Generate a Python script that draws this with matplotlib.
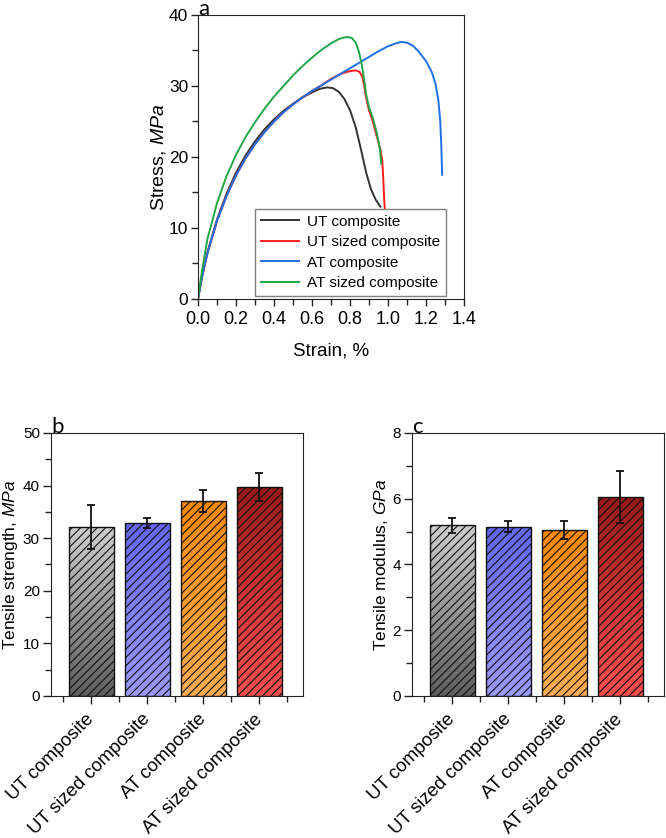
import numpy as np
import matplotlib
matplotlib.use("Agg")
import matplotlib.pyplot as plt
from matplotlib.colors import LinearSegmentedColormap
from matplotlib.ticker import MultipleLocator

plt.rcParams['font.family'] = ['Liberation Sans', 'DejaVu Sans']
plt.rcParams['mathtext.fontset'] = 'custom'
plt.rcParams['mathtext.rm'] = 'Liberation Sans'
plt.rcParams['mathtext.it'] = 'Liberation Sans:italic'
plt.rcParams['hatch.linewidth'] = 0.8
plt.rcParams['axes.edgecolor'] = '#222222'

# ---------------- Panel a: stress-strain curves ----------------
ut_strain = [0, 0.02, 0.05, 0.1, 0.15, 0.2, 0.25, 0.3, 0.35, 0.4, 0.45, 0.5, 0.55, 0.6,
             0.64, 0.68, 0.71, 0.74, 0.77, 0.8, 0.83, 0.86, 0.885, 0.91, 0.935, 0.96]
ut_stress = [0, 3.0, 6.6, 11.2, 14.8, 17.8, 20.2, 22.2, 23.9, 25.3, 26.5, 27.5, 28.4, 29.1,
             29.6, 29.8, 29.7, 29.2, 28.2, 26.6, 24.2, 20.8, 17.8, 15.5, 14.0, 13.0]

uts_strain = [0, 0.02, 0.05, 0.1, 0.15, 0.2, 0.25, 0.3, 0.35, 0.4, 0.45, 0.5, 0.55, 0.6,
              0.65, 0.7, 0.75, 0.8, 0.83, 0.85, 0.865, 0.875, 0.885, 0.9, 0.92, 0.94, 0.96,
              0.97, 0.975, 0.98, 0.985]
uts_stress = [0, 3.0, 6.5, 11.0, 14.5, 17.4, 19.8, 21.8, 23.5, 25.0, 26.3, 27.4, 28.4, 29.3,
              30.1, 31.0, 31.7, 32.1, 32.2, 32.0, 31.3, 30.0, 28.3, 26.6, 25.0, 23.0, 21.0,
              19.5, 17.0, 14.0, 12.0]

at_strain = [0, 0.02, 0.05, 0.1, 0.15, 0.2, 0.25, 0.3, 0.35, 0.4, 0.45, 0.5, 0.55, 0.6,
             0.65, 0.7, 0.75, 0.8, 0.85, 0.9, 0.95, 1.0, 1.04, 1.07, 1.1, 1.13, 1.16, 1.2,
             1.23, 1.25, 1.265, 1.275, 1.28, 1.285]
at_stress = [0, 3.0, 6.5, 11.0, 14.5, 17.4, 19.8, 21.8, 23.5, 25.0, 26.3, 27.4, 28.4, 29.3,
             30.1, 30.9, 31.7, 32.5, 33.3, 34.1, 34.9, 35.6, 36.0, 36.2, 36.1, 35.7, 34.9, 33.5,
             32.0, 30.3, 28.0, 25.0, 22.0, 17.5]

ats_strain = [0, 0.02, 0.05, 0.1, 0.15, 0.2, 0.25, 0.3, 0.35, 0.4, 0.45, 0.5, 0.55, 0.6,
              0.65, 0.7, 0.74, 0.77, 0.79, 0.81, 0.83, 0.845, 0.86, 0.873, 0.885, 0.9, 0.92,
              0.94, 0.955, 0.965]
ats_stress = [0, 3.8, 8.5, 13.5, 17.3, 20.3, 22.8, 24.9, 26.8, 28.5, 30.0, 31.5, 32.8, 34.0,
              35.1, 36.0, 36.6, 36.85, 36.9, 36.75, 36.1, 35.0, 33.3, 31.2, 28.8, 27.0, 25.5,
              23.5, 21.5, 19.0]

curve_labels = ["UT composite", "UT sized composite", "AT composite", "AT sized composite"]
curve_colors = ["#333333", "#ff1a1a", "#1f6fe6", "#22a64a"]

# ---------------- Panels b, c: bar charts ----------------
categories = ["UT composite", "UT sized composite", "AT composite", "AT sized composite"]
strength = [32.1, 32.9, 37.1, 39.8]
strength_err = [4.15, 1.0, 2.1, 2.65]
modulus = [5.19, 5.15, 5.05, 6.05]
modulus_err = [0.22, 0.17, 0.27, 0.8]

# gradient (top, bottom) colours for each bar
grad_colors = [("#cdcdcd", "#5e5e5e"),
               ("#6565f5", "#9a9aff"),
               ("#ff8800", "#ffad55"),
               ("#961a1a", "#ff4f4f")]

fig = plt.figure(figsize=(6.66, 8.38), dpi=100)

# ---- panel a ----
ax = fig.add_axes([0.2973, 0.6432, 0.3994, 0.3389])
for (sx, sy), lab, col in zip([(ut_strain, ut_stress), (uts_strain, uts_stress),
                               (at_strain, at_stress), (ats_strain, ats_stress)],
                              curve_labels, curve_colors):
    ax.plot(sx, sy, color=col, lw=1.4, label=lab)
ax.set_xlim(0, 1.4)
ax.set_ylim(0, 40)
ax.xaxis.set_major_locator(MultipleLocator(0.2))
ax.xaxis.set_minor_locator(MultipleLocator(0.1))
ax.yaxis.set_major_locator(MultipleLocator(10))
ax.yaxis.set_minor_locator(MultipleLocator(5))
ax.xaxis.set_major_formatter(matplotlib.ticker.FormatStrFormatter('%.1f'))
ax.tick_params(axis='both', which='major', direction='out', length=5, width=1, color='#222222')
ax.tick_params(axis='both', which='minor', direction='out', length=4, width=1, color='#222222')
ax.tick_params(axis='x', labelsize=13, pad=4)
ax.tick_params(axis='y', labelsize=12.5, pad=2)
ax.set_xlabel("Strain, %", fontsize=13.5, labelpad=10)
ax.set_ylabel(r"Stress, $\mathit{MPa}$", fontsize=14, labelpad=1)
leg = ax.legend(loc='lower left', bbox_to_anchor=(0.214, 0.01), fontsize=11,
                frameon=True, fancybox=False, edgecolor='#808080', framealpha=1,
                handlelength=2.5, handletextpad=0.5, borderpad=0.4, labelspacing=0.42,
                borderaxespad=0)
leg.get_frame().set_linewidth(1.0)
ax.text(0.0, 1.0, "a", transform=ax.transAxes, fontsize=16, family='Lato',
        ha='left', va='baseline')


def bar_panel(rect, values, errs, ylim, major, minor, ylabel, letter):
    bx = fig.add_axes(rect)
    x = np.arange(len(categories))
    bars = bx.bar(x, values, width=0.8, facecolor='none', edgecolor='#111111',
                  linewidth=1.0, hatch='////', zorder=3)
    grad = np.linspace(0, 1, 256).reshape(-1, 1)
    for b, (top, bottom) in zip(bars, grad_colors):
        cmap = LinearSegmentedColormap.from_list('g', [bottom, top])
        im = bx.imshow(grad, extent=[b.get_x(), b.get_x() + b.get_width(), 0, b.get_height()],
                       origin='lower', cmap=cmap, aspect='auto', zorder=2)
        im.set_clip_path(b)
    bx.errorbar(x, values, yerr=errs, fmt='none', ecolor='#111111', elinewidth=1.3,
                capsize=3, capthick=1.3, zorder=4)
    bx.set_xlim(-0.72, 3.78)
    bx.set_ylim(*ylim)
    bx.set_xticks(x)
    bx.set_xticks(np.arange(-0.5, 4.0, 1.0), minor=True)
    bx.set_xticklabels(categories, rotation=45, ha='right', va='center',
                       rotation_mode='anchor', fontsize=13.5)
    bx.yaxis.set_major_locator(MultipleLocator(major))
    bx.yaxis.set_minor_locator(MultipleLocator(minor))
    bx.tick_params(axis='both', which='major', direction='out', length=6, width=1,
                   color='#222222')
    bx.tick_params(axis='both', which='minor', direction='out', length=4, width=1,
                   color='#222222')
    bx.tick_params(axis='y', labelsize=11, pad=2)
    bx.tick_params(axis='x', pad=9)
    bx.set_ylabel(ylabel, fontsize=12.5, labelpad=2)
    bx.text(0.0, 1.0, letter, transform=bx.transAxes, fontsize=16, family='Lato',
            ha='left', va='baseline')
    return bx


bar_panel([0.0766, 0.1695, 0.3784, 0.3138], strength, strength_err, (0, 50), 10, 5,
          r"Tensile strength, $\mathit{MPa}$", "b")
bar_panel([0.6186, 0.1695, 0.3784, 0.3138], modulus, modulus_err, (0, 8), 2, 1,
          r"Tensile modulus, $\mathit{GPa}$", "c")

fig.savefig("out.png", dpi=100)
